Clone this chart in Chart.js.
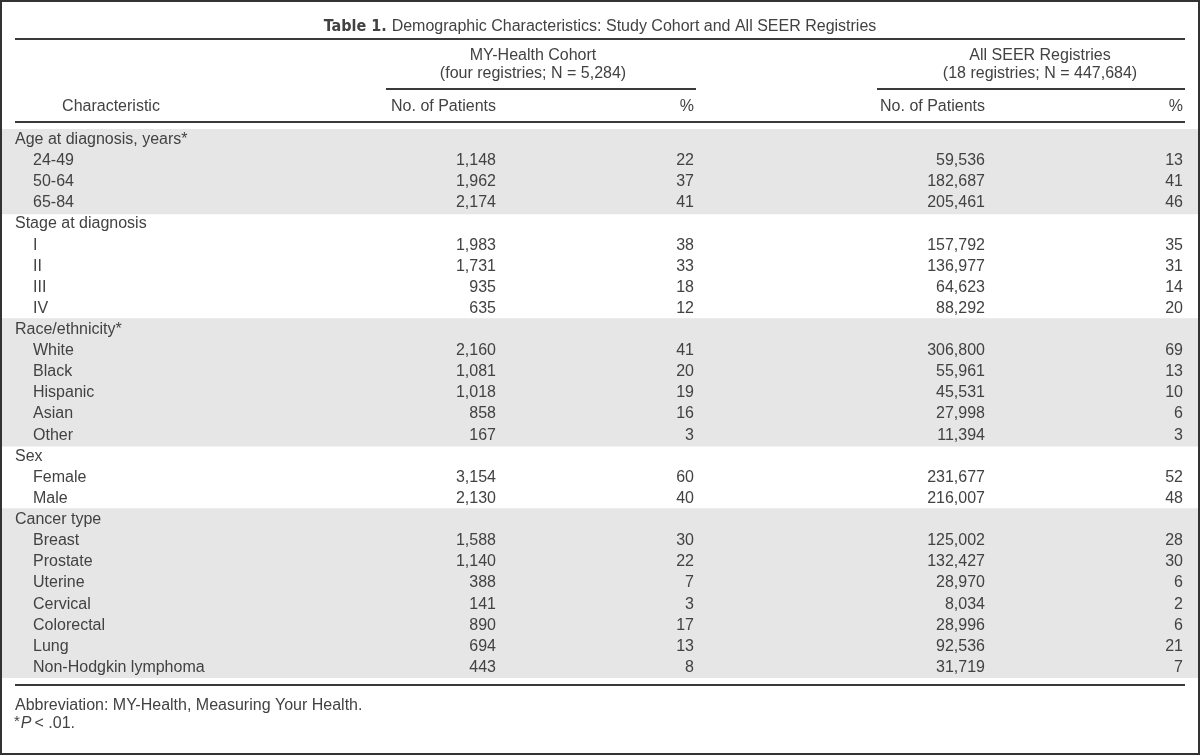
<!DOCTYPE html>
<html lang="en">
<head>
<meta charset="UTF-8">
<title>Table 1. Demographic Characteristics</title>
<script src="https://cdn.jsdelivr.net/npm/chart.js@4"></script>
<style>
  * { margin: 0; padding: 0; box-sizing: border-box; }
  body { background: #fff; }
  canvas { display: block; }
</style>
</head>
<body>
<canvas id="table" width="1200" height="755"></canvas>
<script>
// Table content
const groupNames = ['Age at diagnosis, years*', 'Stage at diagnosis', 'Race/ethnicity*', 'Sex', 'Cancer type'];
const itemNames = [
  ['24-49', '50-64', '65-84'],
  ['I', 'II', 'III', 'IV'],
  ['White', 'Black', 'Hispanic', 'Asian', 'Other'],
  ['Female', 'Male'],
  ['Breast', 'Prostate', 'Uterine', 'Cervical', 'Colorectal', 'Lung', 'Non-Hodgkin lymphoma'],
];
const cohortCounts = [
  [1148, 1962, 2174],
  [1983, 1731, 935, 635],
  [2160, 1081, 1018, 858, 167],
  [3154, 2130],
  [1588, 1140, 388, 141, 890, 694, 443],
];
const cohortPct = [
  [22, 37, 41],
  [38, 33, 18, 12],
  [41, 20, 19, 16, 3],
  [60, 40],
  [30, 22, 7, 3, 17, 13, 8],
];
const seerCounts = [
  [59536, 182687, 205461],
  [157792, 136977, 64623, 88292],
  [306800, 55961, 45531, 27998, 11394],
  [231677, 216007],
  [125002, 132427, 28970, 8034, 28996, 92536, 31719],
];
const seerPct = [
  [13, 41, 46],
  [35, 31, 14, 20],
  [69, 13, 10, 6, 3],
  [52, 48],
  [28, 30, 6, 2, 6, 21, 7],
];
const titleBold = 'Table 1.';
const titleText = 'Demographic Characteristics: Study Cohort and All SEER Registries';
const cohortHeader = ['MY-Health Cohort', '(four registries; N = 5,284)'];
const seerHeader = ['All SEER Registries', '(18 registries; N = 447,684)'];
const columnHeaders = ['Characteristic', 'No. of Patients', '%', 'No. of Patients', '%'];
const footnote = 'Abbreviation: MY-Health, Measuring Your Health.';

// Flatten into rows
const rows = [];
groupNames.forEach((name, g) => {
  rows.push({ label: name, group: g, heading: true });
  itemNames[g].forEach((item, i) => {
    rows.push({
      label: item, group: g, heading: false,
      values: [cohortCounts[g][i], cohortPct[g][i], seerCounts[g][i], seerPct[g][i]],
    });
  });
});

// Layout (pixels on the x scale, which runs 0..1200)
const FONT = "'Liberation Sans', Arial, sans-serif";
const NARROW = "'Liberation Sans Narrow', 'DejaVu Sans Condensed', sans-serif";
const INK = '#424242';
const RULE = '#3a3a3a';
const GRAY = '#e5e6e5';
const LEFT = 15, RIGHT = 1185, INDENT = 33;
const colRight = [496, 694, 985, 1183];

const fmt = v => v.toLocaleString('en-US');

const tablePlugin = {
  id: 'tableText',
  afterDatasetsDraw(chart) {
    const { ctx, scales: { x, y } } = chart;
    ctx.save();
    ctx.fillStyle = INK;
    ctx.textBaseline = 'middle';
    ctx.font = '16px ' + FONT;

    // body rows
    rows.forEach((r, i) => {
      const py = y.getPixelForValue(i);
      ctx.textAlign = 'left';
      ctx.fillText(r.label, x.getPixelForValue(r.heading ? LEFT : INDENT), py);
      if (!r.heading) {
        ctx.textAlign = 'right';
        r.values.forEach((v, c) => ctx.fillText(fmt(v), x.getPixelForValue(colRight[c]), py));
      }
    });

    // title
    ctx.textAlign = 'left';
    ctx.font = 'bold 16px ' + NARROW;
    const wb = ctx.measureText(titleBold + ' ').width;
    ctx.font = '16px ' + FONT;
    const wt = ctx.measureText(titleText).width;
    const tx = 600 - (wb + wt) / 2;
    ctx.font = 'bold 16px ' + NARROW;
    ctx.fillText(titleBold, tx, 27);
    ctx.font = '16px ' + FONT;
    ctx.fillText(titleText, tx + wb, 27);

    // group headers
    ctx.textAlign = 'center';
    ctx.fillText(cohortHeader[0], 533, 56);
    ctx.fillText(cohortHeader[1], 533, 74);
    ctx.fillText(seerHeader[0], 1040, 56);
    ctx.fillText(seerHeader[1], 1040, 74);

    // column headers
    ctx.fillText(columnHeaders[0], 111, 107);
    ctx.textAlign = 'right';
    ctx.fillText(columnHeaders[1], colRight[0], 107);
    ctx.fillText(columnHeaders[2], colRight[1], 107);
    ctx.fillText(columnHeaders[3], colRight[2], 107);
    ctx.fillText(columnHeaders[4], colRight[3], 107);

    // rules
    ctx.fillStyle = RULE;
    ctx.fillRect(LEFT, 38, RIGHT - LEFT, 2);
    ctx.fillRect(386, 88, 310, 2);
    ctx.fillRect(877, 88, 308, 2);
    ctx.fillRect(LEFT, 121, RIGHT - LEFT, 2);
    ctx.fillRect(LEFT, 684, RIGHT - LEFT, 2);

    // footnotes
    ctx.fillStyle = INK;
    ctx.textAlign = 'left';
    ctx.font = '16px ' + FONT;
    ctx.fillText(footnote, LEFT, 706);
    ctx.font = '15px ' + FONT;
    ctx.fillText('*', LEFT - 1, 722);
    let fx = LEFT + ctx.measureText('*').width;
    ctx.font = 'italic 16px ' + FONT;
    ctx.fillText('P', fx, 724);
    fx += ctx.measureText('P').width + 3;
    ctx.font = '16px ' + FONT;
    ctx.fillText('< .01.', fx, 724);

    // outer frame
    ctx.strokeStyle = '#333';
    ctx.lineWidth = 2;
    ctx.strokeRect(1, 1, 1198, 753);
    ctx.restore();
  }
};

new Chart(document.getElementById('table'), {
  type: 'bar',
  data: {
    labels: rows.map(r => r.label),
    datasets: [{
      data: rows.map(r => (r.group % 2 === 0 ? [0, 1200] : null)),
      backgroundColor: GRAY,
      borderWidth: 0,
      barPercentage: 1.08,
      categoryPercentage: 1,
    }]
  },
  options: {
    indexAxis: 'y',
    responsive: false,
    animation: false,
    layout: { padding: { top: 129, bottom: 77, left: 0, right: 0 } },
    plugins: { legend: { display: false }, tooltip: { enabled: false } },
    scales: {
      x: { type: 'linear', min: 0, max: 1200, display: false },
      y: { type: 'category', display: false, offset: true },
    },
  },
  plugins: [tablePlugin],
});
</script>
</body>
</html>
